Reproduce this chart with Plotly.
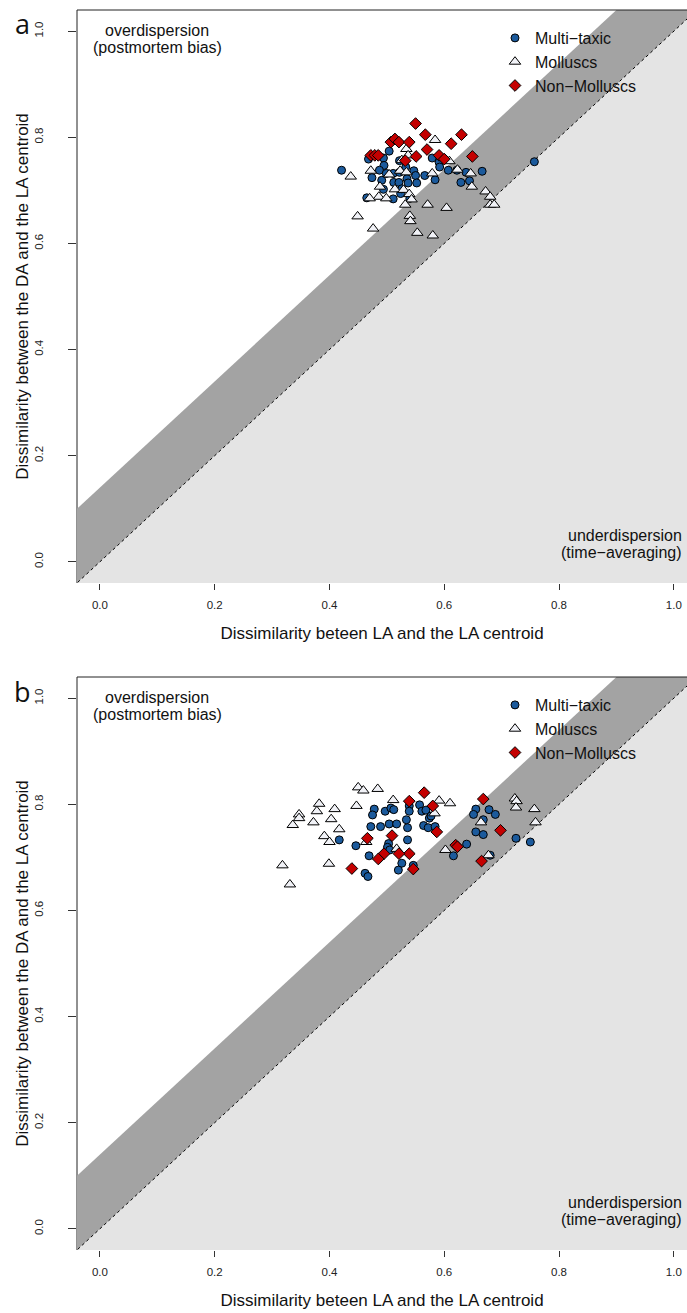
import plotly.graph_objects as go

# ---------------- data ----------------
# Panel a
a_multi_x = [0.421, 0.468, 0.504, 0.494, 0.495, 0.487, 0.474, 0.491, 0.499, 0.511, 0.522, 0.533, 0.547,
             0.550, 0.535, 0.512, 0.521, 0.537, 0.552, 0.566, 0.584, 0.579, 0.591, 0.592, 0.607, 0.622,
             0.638, 0.644, 0.629, 0.666, 0.757, 0.465, 0.511, 0.524, 0.526, 0.540, 0.522, 0.494]
a_multi_y = [0.738, 0.759, 0.774, 0.761, 0.747, 0.738, 0.724, 0.719, 0.732, 0.732, 0.734, 0.744, 0.737,
             0.728, 0.722, 0.715, 0.715, 0.714, 0.714, 0.728, 0.720, 0.761, 0.753, 0.744, 0.738, 0.738,
             0.734, 0.718, 0.715, 0.736, 0.754, 0.686, 0.684, 0.694, 0.703, 0.685, 0.756, 0.702]
a_moll_x = [0.437, 0.472, 0.534, 0.537, 0.526, 0.584, 0.609, 0.623, 0.646, 0.648, 0.672, 0.680, 0.680,
            0.687, 0.523, 0.534, 0.504, 0.488, 0.514, 0.529, 0.486, 0.470, 0.499, 0.539, 0.543, 0.532,
            0.571, 0.604, 0.579, 0.449, 0.476, 0.540, 0.541, 0.553, 0.580]
a_moll_y = [0.726, 0.737, 0.778, 0.766, 0.757, 0.795, 0.755, 0.739, 0.732, 0.707, 0.698, 0.688, 0.673,
            0.673, 0.737, 0.734, 0.730, 0.707, 0.702, 0.701, 0.688, 0.685, 0.685, 0.693, 0.683, 0.673,
            0.673, 0.667, 0.732, 0.651, 0.628, 0.652, 0.642, 0.620, 0.615]
a_non_x = [0.550, 0.567, 0.630, 0.612, 0.507, 0.514, 0.521, 0.539, 0.570, 0.472, 0.479, 0.485, 0.532,
           0.551, 0.591, 0.600, 0.649]
a_non_y = [0.826, 0.805, 0.805, 0.788, 0.791, 0.797, 0.791, 0.791, 0.777, 0.766, 0.766, 0.766, 0.756,
           0.764, 0.766, 0.759, 0.764]

# Panel b
b_multi_x = [0.478, 0.475, 0.497, 0.507, 0.512, 0.539, 0.539, 0.557, 0.561, 0.568, 0.574, 0.577, 0.472,
             0.489, 0.504, 0.517, 0.534, 0.536, 0.564, 0.572, 0.584, 0.417, 0.446, 0.503, 0.501, 0.505,
             0.536, 0.469, 0.526, 0.546, 0.520, 0.462, 0.467, 0.639, 0.616, 0.655, 0.651, 0.678, 0.689,
             0.668, 0.655, 0.668, 0.725, 0.750, 0.680]
b_multi_y = [0.791, 0.780, 0.787, 0.793, 0.790, 0.797, 0.787, 0.799, 0.787, 0.789, 0.774, 0.778, 0.758,
             0.758, 0.763, 0.763, 0.771, 0.756, 0.760, 0.756, 0.758, 0.733, 0.722, 0.726, 0.719, 0.714,
             0.733, 0.703, 0.689, 0.685, 0.676, 0.670, 0.664, 0.725, 0.703, 0.791, 0.781, 0.790, 0.781,
             0.771, 0.748, 0.743, 0.736, 0.729, 0.704]
b_moll_x = [0.450, 0.459, 0.484, 0.382, 0.378, 0.347, 0.347, 0.336, 0.372, 0.403, 0.409, 0.447, 0.417,
            0.391, 0.400, 0.464, 0.318, 0.331, 0.399, 0.511, 0.517, 0.591, 0.610, 0.583, 0.602, 0.677,
            0.664, 0.723, 0.726, 0.725, 0.757, 0.759]
b_moll_y = [0.832, 0.826, 0.829, 0.801, 0.787, 0.781, 0.774, 0.761, 0.766, 0.772, 0.791, 0.797, 0.753,
            0.740, 0.729, 0.729, 0.685, 0.649, 0.688, 0.808, 0.716, 0.807, 0.802, 0.783, 0.714, 0.704,
            0.766, 0.811, 0.806, 0.794, 0.791, 0.766]
b_non_x = [0.565, 0.539, 0.580, 0.466, 0.509, 0.539, 0.521, 0.495, 0.485, 0.439, 0.546, 0.587, 0.620,
           0.623, 0.665, 0.668, 0.698]
b_non_y = [0.822, 0.806, 0.797, 0.736, 0.741, 0.707, 0.707, 0.707, 0.697, 0.679, 0.678, 0.748, 0.723,
           0.720, 0.693, 0.810, 0.751]

series_names = ["Multi\u2212taxic", "Molluscs", "Non\u2212Molluscs"]
tick_vals = [0.0, 0.2, 0.4, 0.6, 0.8, 1.0]
tick_text = ["0.0", "0.2", "0.4", "0.6", "0.8", "1.0"]
band_offset = 0.14          # width of the dark band above the 1:1 line
x_label = "Dissimilarity beteen LA and the LA centroid"
y_label = "Dissimilarity between the DA and the LA centroid"

# ---------------- style ----------------
FONT = "Liberation Sans, Arial, sans-serif"
TXT = "#111"
BLUE = "#1B5A9C"
RED = "#C40000"
TRI = "#F1F2F7"
LIGHT = "#E4E4E4"
DARK = "#A3A3A3"

W, H = 687, 1313
ML, MR, MT, MB = 77, 0, 10, 63
PH = H - MT - MB
dom_a = [(1250 - 583) / PH, 1.0]
dom_b = [0.0, (1250 - 677) / PH]
XR = [-0.04, 1.023]
YR = [-0.04, 1.04]

fig = go.Figure()

lo, hi = -0.2, 1.3
panels = [
    ("x", "y", "legend", (a_multi_x, a_multi_y), (a_moll_x, a_moll_y), (a_non_x, a_non_y)),
    ("x2", "y2", "legend2", (b_multi_x, b_multi_y), (b_moll_x, b_moll_y), (b_non_x, b_non_y)),
]
for xa, ya, leg, multi, moll, non in panels:
    # light region below 1:1 line
    fig.add_trace(go.Scatter(x=[lo, hi, hi, lo], y=[lo, hi, lo, lo], fill="toself", mode="lines",
                             line=dict(width=0), fillcolor=LIGHT, hoverinfo="skip", showlegend=False,
                             xaxis=xa, yaxis=ya))
    # dark band
    fig.add_trace(go.Scatter(x=[lo, hi, hi, lo, lo], y=[lo, hi, hi + band_offset, lo + band_offset, lo],
                             fill="toself", mode="lines", line=dict(width=0), fillcolor=DARK,
                             hoverinfo="skip", showlegend=False, xaxis=xa, yaxis=ya))
    # 1:1 line
    fig.add_trace(go.Scatter(x=[lo, hi], y=[lo, hi], mode="lines",
                             line=dict(color="black", width=1, dash="dot"),
                             hoverinfo="skip", showlegend=False, xaxis=xa, yaxis=ya))
    fig.add_trace(go.Scatter(x=multi[0], y=multi[1], mode="markers", name=series_names[0],
                             marker=dict(symbol="circle", size=8, color=BLUE,
                                         line=dict(color="black", width=1)),
                             xaxis=xa, yaxis=ya, legend=leg))
    fig.add_trace(go.Scatter(x=moll[0], y=moll[1], mode="markers", name=series_names[1],
                             marker=dict(symbol="triangle-up", size=10, color=TRI,
                                         line=dict(color="black", width=1)),
                             xaxis=xa, yaxis=ya, legend=leg))
    fig.add_trace(go.Scatter(x=non[0], y=non[1], mode="markers", name=series_names[2],
                             marker=dict(symbol="diamond", size=9, color=RED,
                                         line=dict(color="black", width=1)),
                             xaxis=xa, yaxis=ya, legend=leg))

xaxis_common = dict(range=XR, tickvals=tick_vals, ticktext=tick_text, ticks="outside", ticklen=6,
                    tickcolor="#333", tickwidth=1, showline=False, showgrid=False, zeroline=False,
                    ticklabelstandoff=5,
                    tickfont=dict(family=FONT, size=11.5, color="#222"),
                    title=dict(text=x_label, font=dict(family=FONT, size=17, color=TXT), standoff=17))
yaxis_common = dict(range=YR, tickvals=tick_vals, ticktext=tick_text, ticks="outside", ticklen=8,
                    tickcolor="#333", tickwidth=1, showline=False, showgrid=False, zeroline=False,
                    tickangle=-90, ticklabelstandoff=20,
                    tickfont=dict(family=FONT, size=11.5, color="#222"),
                    title=dict(text=y_label, font=dict(family=FONT, size=17, color=TXT), standoff=0))

legend_common = dict(xanchor="left", yanchor="top", bgcolor="rgba(0,0,0,0)",
                     font=dict(family=FONT, size=16, color=TXT), tracegroupgap=0, itemsizing="trace")

fig.update_layout(
    width=W, height=H, margin=dict(l=ML, r=MR, t=MT, b=MB),
    paper_bgcolor="white", plot_bgcolor="white",
    xaxis=dict(domain=[0, 1], anchor="y", **xaxis_common),
    yaxis=dict(domain=dom_a, anchor="x", **yaxis_common),
    xaxis2=dict(domain=[0, 1], anchor="y2", **xaxis_common),
    yaxis2=dict(domain=dom_b, anchor="x2", **yaxis_common),
    legend=dict(x=(495 - ML) / (W - ML), y=(1250 - 21) / PH, **legend_common),
    legend2=dict(x=(495 - ML) / (W - ML), y=(1250 - 688) / PH, **legend_common),
    showlegend=True,
)

# box lines (left and top) for each panel
for xa, ya in (("x", "y"), ("x2", "y2")):
    fig.add_shape(type="line", xref=f"{xa} domain", yref=f"{ya} domain", x0=0, x1=0, y0=0, y1=1,
                  line=dict(color="#222", width=1), layer="below")
    fig.add_shape(type="line", xref=f"{xa} domain", yref=f"{ya} domain", x0=0, x1=1, y0=1, y1=1,
                  line=dict(color="#222", width=1), layer="above")

# region labels
def px_to_paper_y(py):
    return (1250 - py) / PH

def px_to_paper_x(px):
    return (px - ML) / (W - ML)

for off, letter in ((0, "a"), (667, "b")):
    fig.add_annotation(text=letter, x=px_to_paper_x(22), y=px_to_paper_y(24 + off), xref="paper",
                       yref="paper", showarrow=False, xanchor="center", yanchor="middle",
                       font=dict(family="Open Sans, sans-serif", size=27, color=TXT))
    fig.add_annotation(text="overdispersion", x=px_to_paper_x(157), y=px_to_paper_y(30.5 + off),
                       xref="paper", yref="paper", showarrow=False, xanchor="center", yanchor="middle",
                       font=dict(family=FONT, size=16, color=TXT))
    fig.add_annotation(text="(postmortem bias)", x=px_to_paper_x(157), y=px_to_paper_y(47.5 + off),
                       xref="paper", yref="paper", showarrow=False, xanchor="center", yanchor="middle",
                       font=dict(family=FONT, size=16, color=TXT))
    fig.add_annotation(text="underdispersion", x=px_to_paper_x(684), y=px_to_paper_y(535.5 + off),
                       xref="paper", yref="paper", showarrow=False, xanchor="right", yanchor="middle",
                       font=dict(family=FONT, size=16, color=TXT))
    fig.add_annotation(text="(time\u2212averaging)", x=px_to_paper_x(684), y=px_to_paper_y(552.5 + off),
                       xref="paper", yref="paper", showarrow=False, xanchor="right", yanchor="middle",
                       font=dict(family=FONT, size=16, color=TXT))

fig.write_html("out.html")
